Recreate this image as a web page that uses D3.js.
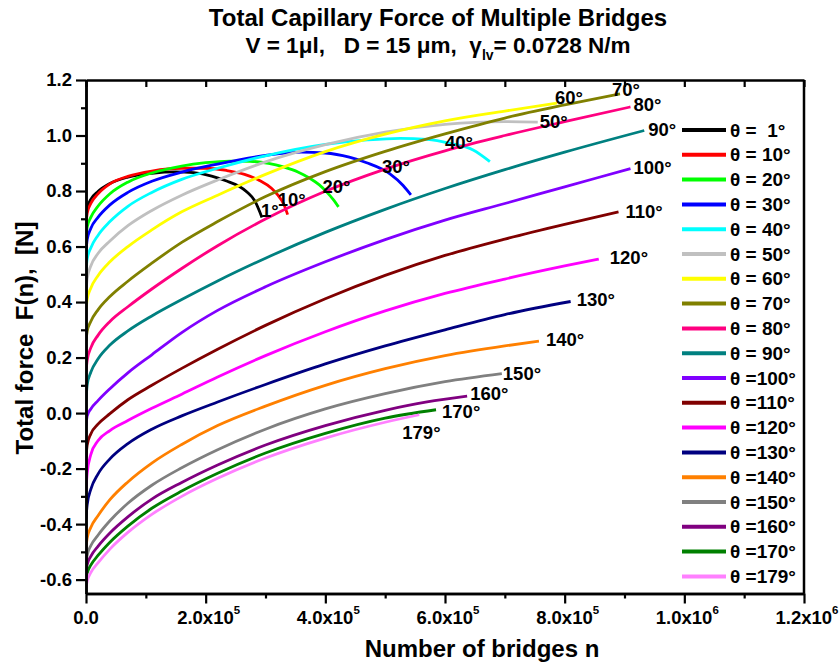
<!DOCTYPE html>
<html>
<head>
<meta charset="utf-8">
<script src="https://cdn.jsdelivr.net/npm/d3@7"></script>
<style>
  body { margin: 0; background: #fff; }
  svg { display: block; font-family: "Liberation Sans", Arial, sans-serif; font-weight: bold; }
</style>
</head>
<body>
<svg id="chart" width="839" height="667"></svg>
<script>
// Contact angles (degrees) of the plotted series
const angles = [1, 10, 20, 30, 40, 50, 60, 70, 80, 90, 100, 110, 120, 130, 140, 150, 160, 170, 179];

// Total force F(n) in N, sampled as [n (x 10^5 bridges), F]
const s1   = [[0,0.70],[0.02,0.74],[0.08,0.77],[0.2,0.798],[0.4,0.827],[0.7,0.85],[1.1,0.864],[1.5,0.869],[1.8,0.866],[2.1,0.854],[2.35,0.836],[2.55,0.818],[2.7,0.795],[2.82,0.765],[2.94,0.705]];
const s10  = [[0,0.68],[0.02,0.72],[0.08,0.755],[0.2,0.79],[0.4,0.826],[0.7,0.853],[1.1,0.872],[1.6,0.882],[2.0,0.882],[2.35,0.874],[2.65,0.86],[2.9,0.838],[3.1,0.81],[3.2,0.787],[3.3,0.755],[3.37,0.715]];
const s20  = [[0,0.63],[0.02,0.67],[0.08,0.705],[0.2,0.745],[0.4,0.79],[0.7,0.832],[1.1,0.865],[1.6,0.89],[2.0,0.902],[2.4,0.908],[2.74,0.907],[3.05,0.90],[3.3,0.887],[3.55,0.868],[3.74,0.846],[3.9,0.822],[4.02,0.797],[4.13,0.77],[4.22,0.743]];
const s30  = [[0,0.58],[0.02,0.625],[0.08,0.665],[0.2,0.705],[0.4,0.75],[0.7,0.795],[1.1,0.835],[1.6,0.868],[2.2,0.897],[3.0,0.928],[3.6,0.94],[4.0,0.937],[4.4,0.922],[4.69,0.902],[5.08,0.862],[5.30,0.82],[5.43,0.786]];
const s40  = [[0,0.515],[0.02,0.555],[0.08,0.595],[0.2,0.64],[0.4,0.69],[0.7,0.745],[1.1,0.795],[1.6,0.842],[2.2,0.882],[3.0,0.927],[4.0,0.968],[4.7,0.984],[5.25,0.99],[5.7,0.986],[6.08,0.972],[6.47,0.948],[6.75,0.906]];
const s50  = [[0,0.44],[0.02,0.485],[0.08,0.53],[0.2,0.575],[0.4,0.62],[0.7,0.675],[1.1,0.73],[1.6,0.785],[2.2,0.84],[3.0,0.905],[4.0,0.967],[5.0,1.012],[6.0,1.04],[7.0,1.05],[7.55,1.048]];
const s60  = [[0,0.37],[0.02,0.41],[0.08,0.45],[0.2,0.495],[0.4,0.545],[0.7,0.60],[1.1,0.66],[1.6,0.725],[2.2,0.785],[3.0,0.86],[4.0,0.942],[5.0,1.005],[6.0,1.053],[7.0,1.088],[7.87,1.117]];
const s70  = [[0,0.26],[0.02,0.295],[0.08,0.33],[0.2,0.372],[0.4,0.42],[0.7,0.475],[1.1,0.54],[1.6,0.615],[2.2,0.69],[3.0,0.78],[4.0,0.87],[5.0,0.943],[6.0,1.006],[7.0,1.063],[8.0,1.11],[8.925,1.15]];
const s80  = [[0,0.15],[0.02,0.19],[0.08,0.235],[0.2,0.28],[0.4,0.33],[0.7,0.383],[1.1,0.447],[1.6,0.521],[2.2,0.603],[3.0,0.699],[4.0,0.799],[5.0,0.879],[6.0,0.945],[7.0,1.0],[8.0,1.05],[9.1,1.103]];
const s90  = [[0,0.045],[0.02,0.102],[0.08,0.147],[0.2,0.195],[0.4,0.245],[0.7,0.296],[1.1,0.35],[1.6,0.409],[2.2,0.476],[3.0,0.558],[4.0,0.651],[5.0,0.734],[6.0,0.809],[7.0,0.877],[8.0,0.94],[9.33,1.018]];
const s100 = [[0,-0.045],[0.02,-0.01],[0.08,0.015],[0.2,0.045],[0.4,0.088],[0.7,0.145],[1.1,0.21],[1.6,0.29],[2.2,0.37],[3.0,0.455],[4.0,0.545],[5.0,0.625],[6.0,0.695],[7.0,0.755],[8.0,0.815],[9.1,0.881]];
const s110 = [[0,-0.16],[0.02,-0.115],[0.08,-0.075],[0.2,-0.04],[0.4,-0.002],[0.7,0.048],[1.1,0.10],[1.6,0.161],[2.2,0.23],[3.0,0.316],[4.0,0.412],[5.0,0.496],[6.0,0.568],[7.0,0.627],[8.0,0.68],[8.9,0.725]];
const s120 = [[0,-0.28],[0.02,-0.215],[0.08,-0.15],[0.2,-0.1],[0.4,-0.063],[0.7,-0.027],[1.1,0.017],[1.6,0.068],[2.2,0.13],[3.0,0.207],[4.0,0.293],[5.0,0.368],[6.0,0.431],[7.0,0.483],[8.0,0.53],[8.57,0.555]];
const s130 = [[0,-0.38],[0.02,-0.33],[0.08,-0.275],[0.2,-0.22],[0.4,-0.165],[0.7,-0.11],[1.1,-0.058],[1.6,-0.01],[2.2,0.04],[3.0,0.103],[4.0,0.177],[5.0,0.242],[6.0,0.30],[7.0,0.355],[8.1,0.402]];
const s140 = [[0,-0.484],[0.02,-0.45],[0.08,-0.412],[0.2,-0.37],[0.4,-0.312],[0.7,-0.248],[1.1,-0.18],[1.6,-0.113],[2.2,-0.045],[3.0,0.025],[4.0,0.10],[5.0,0.16],[6.0,0.207],[7.0,0.242],[7.57,0.259]];
const s150 = [[0,-0.54],[0.02,-0.512],[0.08,-0.478],[0.2,-0.44],[0.4,-0.388],[0.7,-0.325],[1.1,-0.26],[1.6,-0.197],[2.2,-0.132],[3.0,-0.058],[4.0,0.015],[5.0,0.07],[6.0,0.113],[6.95,0.142]];
const s160 = [[0,-0.57],[0.02,-0.546],[0.08,-0.516],[0.2,-0.48],[0.4,-0.432],[0.7,-0.374],[1.1,-0.31],[1.6,-0.25],[2.2,-0.187],[3.0,-0.115],[4.0,-0.045],[5.0,0.01],[5.7,0.04],[6.37,0.061]];
const s170 = [[0,-0.60],[0.02,-0.577],[0.08,-0.548],[0.2,-0.513],[0.4,-0.465],[0.7,-0.407],[1.1,-0.343],[1.6,-0.281],[2.2,-0.217],[3.0,-0.144],[4.0,-0.073],[5.0,-0.018],[5.85,0.012]];
const s179 = [[0,-0.63],[0.02,-0.605],[0.08,-0.575],[0.2,-0.54],[0.4,-0.49],[0.7,-0.43],[1.1,-0.365],[1.6,-0.30],[2.2,-0.235],[3.0,-0.162],[4.0,-0.09],[5.0,-0.033],[5.57,-0.006]];

const seriesValues = [s1, s10, s20, s30, s40, s50, s60, s70, s80, s90, s100, s110, s120, s130, s140, s150, s160, s170, s179];

// Axis ticks
const xMajorTicks = [0, 2e5, 4e5, 6e5, 8e5, 1e6, 1.2e6];
const xMinorTicks = [1e5, 3e5, 5e5, 7e5, 9e5, 1.1e6];
const yMajorTicks = [-0.6, -0.4, -0.2, 0.0, 0.2, 0.4, 0.6, 0.8, 1.0, 1.2];
const yMinorTicks = [-0.5, -0.3, -0.1, 0.1, 0.3, 0.5, 0.7, 0.9, 1.1];

// Line colours per series
const colors = ["#000000","#ff0000","#00ff00","#0000ff","#00ffff","#c0c0c0","#ffff00","#808000","#ff0080",
                "#008080","#8000ff","#800000","#ff00ff","#000080","#ff8000","#808080","#800080","#008000","#ff80ff"];

// Offset of each end label from the last point of its curve (px)
const labelOffsets = [[-1,0],[-10,-9],[-16,-14],[-29,-22],[-45,-13],[2,6],[-2,1],[-8,2],[3,4],[4,5],
                      [3,5],[7,6],[11,5],[6,5],[7,5],[1,6],[3,4],[6,8],[-17,24]];

const svg = d3.select("#chart");
const plot = { left: 86, right: 804, top: 80, bottom: 593.5 };

const x = d3.scaleLinear().domain([0, 1.2e6]).range([plot.left, plot.right]);
const y = d3.scaleLinear().domain([-0.65, 1.2]).range([plot.bottom, plot.top]);

// Titles
svg.append("text").attr("x", 438).attr("y", 26).attr("text-anchor", "middle")
  .attr("font-size", 24).text("Total Capillary Force of Multiple Bridges");
const sub = svg.append("text").attr("x", 438).attr("y", 53).attr("text-anchor", "middle")
  .attr("font-size", 22.5).style("white-space", "pre");
sub.append("tspan").text("V = 1\u03bcl,   D = 15 \u03bcm,  \u03b3");
sub.append("tspan").attr("font-size", 14).attr("dy", 7).text("lv");
sub.append("tspan").attr("dy", -7).text("= 0.0728 N/m");

// Clip region for the curves
svg.append("defs").append("clipPath").attr("id", "plotClip")
  .append("rect").attr("x", plot.left).attr("y", plot.top)
  .attr("width", plot.right - plot.left).attr("height", plot.bottom - plot.top);

// Curves
const line = d3.line()
  .x(d => x(d[0] * 1e5))
  .y(d => y(d[1]))
  .curve(d3.curveMonotoneX);

const curves = svg.append("g").attr("clip-path", "url(#plotClip)");
seriesValues.forEach((vals, i) => {
  curves.append("path").datum(vals)
    .attr("d", line)
    .attr("fill", "none")
    .attr("stroke", colors[i])
    .attr("stroke-width", 2.8)
    .attr("stroke-linecap", "butt");
});

// End labels
seriesValues.forEach((vals, i) => {
  const last = vals[vals.length - 1];
  svg.append("text")
    .attr("x", x(last[0] * 1e5) + labelOffsets[i][0])
    .attr("y", y(last[1]) + labelOffsets[i][1])
    .attr("font-size", 18.5)
    .text(angles[i] + "\u00b0");
});

// Axes
function styleAxis(g) {
  g.selectAll("path.domain").attr("stroke", "#000").attr("stroke-width", 2.5);
  g.selectAll(".tick line").attr("stroke", "#000").attr("stroke-width", 2.2);
}

// Left axis
const yAxis = svg.append("g").attr("transform", `translate(${plot.left},0)`)
  .call(d3.axisLeft(y).tickValues(yMajorTicks).tickSize(10).tickSizeOuter(0)
        .tickFormat(d3.format(".1f")).tickPadding(4));
styleAxis(yAxis);
yAxis.selectAll("text").attr("font-size", 18.5).attr("font-family", "Liberation Sans, Arial, sans-serif")
  .attr("font-weight", "bold").attr("fill", "#000").text(d => d3.format(".1f")(d).replace("\u2212", "-"));
const yMinor = svg.append("g").attr("transform", `translate(${plot.left},0)`)
  .call(d3.axisLeft(y).tickValues(yMinorTicks).tickSize(5).tickSizeOuter(0).tickFormat(""));
styleAxis(yMinor);

// Bottom axis
const xAxis = svg.append("g").attr("transform", `translate(0,${plot.bottom})`)
  .call(d3.axisBottom(x).tickValues(xMajorTicks).tickSize(10).tickSizeOuter(0).tickFormat(""));
styleAxis(xAxis);
const xMinor = svg.append("g").attr("transform", `translate(0,${plot.bottom})`)
  .call(d3.axisBottom(x).tickValues(xMinorTicks).tickSize(5).tickSizeOuter(0).tickFormat(""));
styleAxis(xMinor);

// Bottom tick labels in "m.0x10^e" form
xMajorTicks.forEach(v => {
  const t = svg.append("text").attr("y", 624).attr("font-size", 18.5).style("white-space", "pre");
  if (v === 0) {
    t.attr("x", x(v)).attr("text-anchor", "middle").text("0.0");
  } else {
    const e = Math.floor(Math.log10(v) + 1e-9);
    const m = v / Math.pow(10, e);
    t.attr("x", x(v) + 3).attr("text-anchor", "middle");
    t.append("tspan").text(m.toFixed(1) + "x10");
    t.append("tspan").attr("font-size", 11.5).attr("dy", -10).text(e);
  }
});

// Top axis (inward ticks, no labels)
const topAxis = svg.append("g").attr("transform", `translate(0,${plot.top})`)
  .call(d3.axisBottom(x).tickValues(xMajorTicks.concat(xMinorTicks)).tickSize(7).tickSizeOuter(0).tickFormat(""));
styleAxis(topAxis);

// Right axis line
svg.append("line").attr("x1", plot.right).attr("x2", plot.right)
  .attr("y1", plot.top).attr("y2", plot.bottom)
  .attr("stroke", "#000").attr("stroke-width", 2.5);

// Axis titles
svg.append("text").attr("x", 482).attr("y", 657).attr("text-anchor", "middle")
  .attr("font-size", 24).text("Number of bridges n");
svg.append("text").attr("transform", "translate(33,338) rotate(-90)").attr("text-anchor", "middle")
  .attr("font-size", 24).style("white-space", "pre").text("Total force  F(n),  [N]");

// Legend
const legend = svg.append("g");
angles.forEach((a, i) => {
  const ly = 130 + i * 24.8;
  legend.append("line").attr("x1", 682).attr("x2", 726).attr("y1", ly).attr("y2", ly)
    .attr("stroke", colors[i]).attr("stroke-width", 4);
  const num = a < 10 ? "  " + a : (a < 100 ? " " + a : "" + a);
  legend.append("text").attr("x", 730).attr("y", ly + 6.5).attr("font-size", 19)
    .style("white-space", "pre").text("\u03b8 =" + num + "\u00b0");
});
</script>
</body>
</html>
